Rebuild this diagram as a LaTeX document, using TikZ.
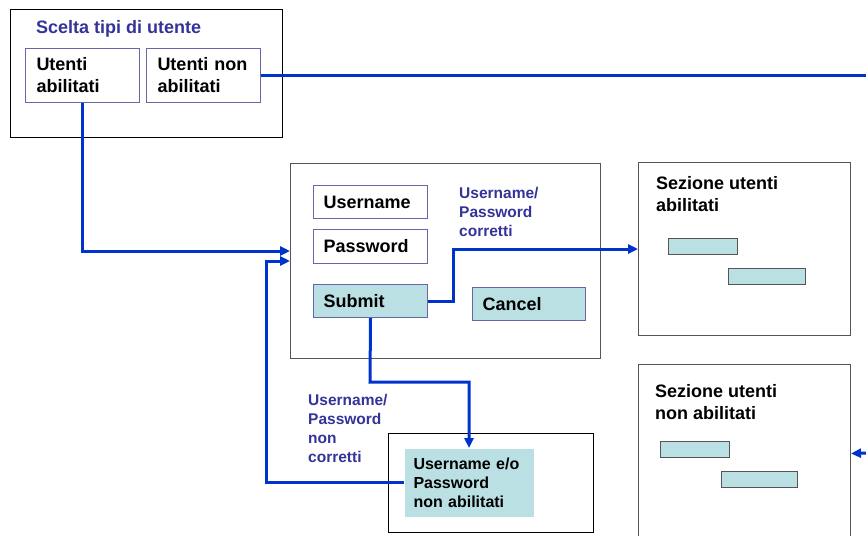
\documentclass[tikz,border=0pt]{standalone}
\usepackage{fontspec}
\setmainfont{Liberation Sans}
\usetikzlibrary{arrows.meta}
\definecolor{connblue}{HTML}{0033CC}
\definecolor{labelblue}{HTML}{333399}
\definecolor{fieldborder}{HTML}{6666AA}
\definecolor{tealfill}{HTML}{BBE0E3}
\definecolor{framegray}{HTML}{555555}
\newcommand\fbig{\fontsize{18}{22}\selectfont\bfseries}
\newcommand\fmid{\fontsize{16}{19}\selectfont\bfseries}
\newcommand\flbl{\fontsize{15.5}{19}\selectfont\bfseries}
\begin{document}
\begin{tikzpicture}[x=1pt,y=-1pt,
  frame/.style={draw=#1, line width=1pt, inner sep=0pt, anchor=north west},
  frame/.default=black,
  field/.style={draw=fieldborder, line width=1pt, anchor=north west, align=left,
                inner ysep=0pt, inner xsep=10pt, font=\fbig},
  btn/.style={field, fill=tealfill},
  bar/.style={draw=framegray, fill=tealfill, line width=1pt, inner sep=0pt, anchor=north west},
  lbl/.style={anchor=north west, inner sep=0pt, align=left},
  conn/.style={draw=connblue, line width=3pt},
  connarrow/.style={conn, -{Triangle[length=10pt,width=9pt]}}
]
\useasboundingbox (0,0) rectangle (866,535);

% top-left frame
\node[frame, minimum width=272pt, minimum height=128pt] (scelta) at (10,9) {};
\node[lbl, font=\fbig, text=labelblue] (sceltat) at (36,20) {Scelta tipi di utente};
\node[field, inner xsep=11pt, minimum width=114pt, minimum height=54pt, text width=92pt] (utab) at (25,48) {Utenti\\abilitati};
\node[field, inner xsep=11pt, minimum width=114pt, minimum height=54pt, text width=92pt] (unab) at (146,48) {Utenti non\\abilitati};

% login frame
\node[frame=framegray, minimum width=310pt, minimum height=195pt] (login) at (290,163) {};
\node[field, minimum width=114pt, minimum height=33pt, text width=94pt] (user) at (313,185) {Username};
\node[field, minimum width=114pt, minimum height=34pt, text width=94pt] (pass) at (313,229) {Password};
\node[btn, minimum width=114pt, minimum height=33pt, text width=94pt] (submit) at (313,284) {Submit};
\node[btn, minimum width=113pt, minimum height=33pt, text width=93pt] (cancel) at (472,287) {Cancel};
\node[lbl, font=\flbl, text=labelblue] (okl) at (459,187) {Username/\\Password\\corretti};

% error frame
\node[frame, minimum width=205pt, minimum height=99pt] (errf) at (388,433) {};
\node[btn, draw=none, inner xsep=9pt, font=\fmid, minimum width=129pt, minimum height=68pt, text width=111pt] (nonab) at (404,448) {Username e/o\\Password\\non abilitati};
\node[lbl, font=\flbl, text=labelblue] (kol) at (308,394) {Username/\\Password\\non\\corretti};

% sections
\node[frame=framegray, minimum width=212pt, minimum height=173pt] (sez1) at (638,162) {};
\node[lbl, font=\fbig] (sez1t) at (656,176) {Sezione utenti\\abilitati};
\node[bar, minimum width=69pt, minimum height=16pt] (s1a) at (668,238) {};
\node[bar, minimum width=77pt, minimum height=16pt] (s1b) at (728,268) {};

\node[frame=framegray, minimum width=212pt, minimum height=178pt] (sez2) at (638,364) {};
\node[lbl, font=\fbig] (sez2t) at (655,384) {Sezione utenti\\non abilitati};
\node[bar, minimum width=69pt, minimum height=16pt] (s2a) at (660,441) {};
\node[bar, minimum width=76pt, minimum height=16pt] (s2b) at (721,471) {};

% free ends at the right edge
\coordinate (outR) at (866,75);
\coordinate (inR) at (866,453);

% connectors
\draw[conn] (unab.east) -- (unab.east -| outR);
\draw[connarrow] (inR) -- (sez2.east);
\draw[connarrow] (utab.south) |- (login.west |- 0,251);
\draw[connarrow] (nonab.west) -- (nonab.west -| 266,0) |- (login.west);
\draw[connarrow] (submit.east) -- (submit.east -| 453,0) |- (sez1.west);
\draw[connarrow] (submit.south) -- (370,382) -| (nonab.north);
\end{tikzpicture}
\end{document}
